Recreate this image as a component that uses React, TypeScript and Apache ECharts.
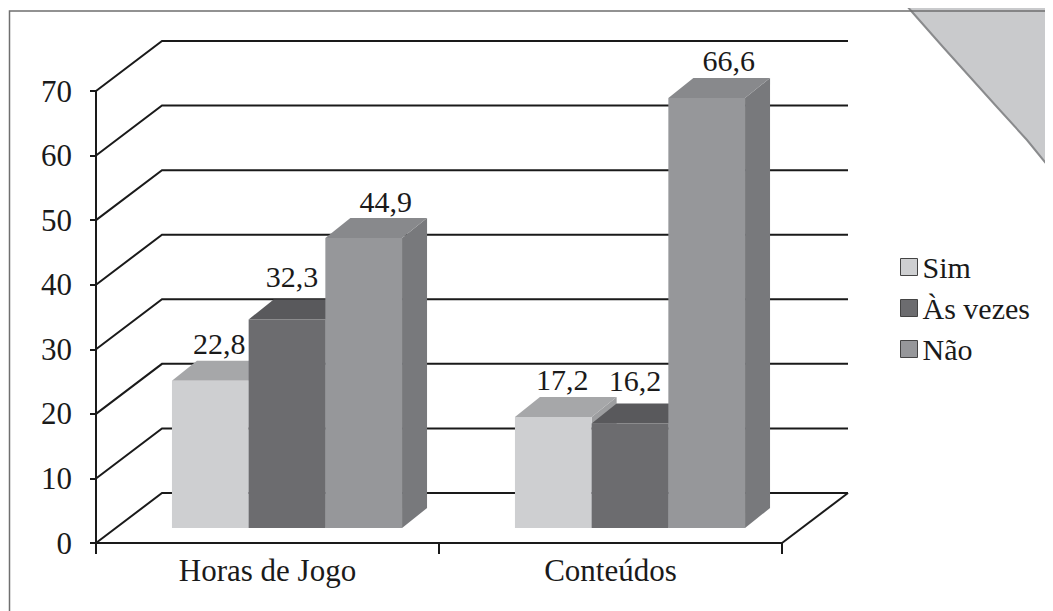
import React, { useEffect, useRef } from "react";
import * as echarts from "echarts";

const categories = ["Horas de Jogo", "Conteúdos"];
const seriesNames = ["Sim", "Às vezes", "Não"];
const simValues = [22.8, 17.2];
const asVezesValues = [32.3, 16.2];
const naoValues = [44.9, 66.6];
const yTicks = [0, 10, 20, 30, 40, 50, 60, 70];

const FONT = "Liberation Serif";

const barStyles = [
  { front: "#cecfd1", top: "#a6a7a9", side: "#9d9ea0", legend: "#cecfd1", lx: 9, ly: -37 },
  { front: "#6c6c6f", top: "#59595c", side: "#555558", legend: "#6c6c6f", lx: 5, ly: -43 },
  { front: "#96979a", top: "#88898c", side: "#78797c", legend: "#96979a", lx: 22, ly: -37 },
];

const WALL_DX = 66;
const WALL_DY = -50;
const FRONT_DX = 19.5;
const FRONT_DY = -15;
const BAR_DX = 25;
const BAR_DY = -20;

const cornerEdge = [
  [900, -2],
  [913, 13],
  [943, 47],
  [970, 77],
  [997, 107],
  [1027, 140],
  [1058, 178],
];

function fmt(v: number) {
  return String(v).replace(".", ",");
}

function makeBarRender(k: number) {
  const st = barStyles[k];
  return (params: any, api: any) => {
    const i = api.value(0);
    const v = api.value(1);
    const base = api.coord([i, 0]);
    const topP = api.coord([i, v]);
    const band = api.size([1, 0])[0];
    const bw = band * 0.2236;
    const xl = base[0] - 1.5 * bw + k * bw + FRONT_DX;
    const xr = xl + bw;
    const yb = base[1] + FRONT_DY;
    const yt = topP[1] + FRONT_DY;
    return {
      type: "group",
      children: [
        {
          type: "polygon",
          shape: {
            points: [
              [xr, yt],
              [xr + BAR_DX, yt + BAR_DY],
              [xr + BAR_DX, yb + BAR_DY],
              [xr, yb],
            ],
          },
          style: { fill: st.side },
        },
        {
          type: "polygon",
          shape: {
            points: [
              [xl, yt],
              [xr, yt],
              [xr + BAR_DX, yt + BAR_DY],
              [xl + BAR_DX, yt + BAR_DY],
            ],
          },
          style: { fill: st.top },
        },
        {
          type: "rect",
          shape: { x: xl, y: yt, width: bw, height: yb - yt },
          style: { fill: st.front },
        },
        {
          type: "text",
          style: {
            text: fmt(v),
            x: xl + bw / 2 + st.lx,
            y: yt + st.ly,
            align: "center",
            verticalAlign: "middle",
            fontSize: 30,
            fontFamily: FONT,
            fontWeight: "normal",
            fill: "#1a1a1a",
          },
        },
      ],
    };
  };
}

function gridRender(params: any, api: any) {
  const v = api.value(1);
  const p = api.coord([0, v]);
  const cs = params.coordSys;
  const x0 = cs.x;
  const y = p[1];
  const children: any[] = [
    {
      type: "polyline",
      shape: {
        points: [
          [x0, y],
          [x0 + WALL_DX, y + WALL_DY],
          [x0 + cs.width + WALL_DX, y + WALL_DY],
        ],
      },
      style: { stroke: "#1a1a1a", lineWidth: 2, fill: "none" },
    },
  ];
  if (v === 0) {
    children.push({
      type: "line",
      shape: { x1: x0 + cs.width, y1: y, x2: x0 + cs.width + WALL_DX, y2: y + WALL_DY },
      style: { stroke: "#1a1a1a", lineWidth: 2 },
    });
  }
  return { type: "group", children };
}

export default function App() {
  const ref = useRef<HTMLDivElement>(null);
  useEffect(() => {
    const chart = echarts.init(ref.current!, null, { renderer: "svg" });
    const valueSets = [simValues, asVezesValues, naoValues];
    const option: any = {
      animation: false,
      grid: { left: 88, top: 83, width: 686, height: 452, containLabel: false },
      xAxis: {
        type: "category",
        data: categories,
        boundaryGap: true,
        axisLine: { lineStyle: { color: "#1a1a1a", width: 2 } },
        axisTick: { show: true, length: 11, alignWithLabel: false, lineStyle: { color: "#1a1a1a", width: 2 } },
        axisLabel: { margin: 12, color: "#1a1a1a", fontSize: 31, fontFamily: FONT, fontWeight: "normal" },
        splitLine: { show: false },
      },
      yAxis: {
        type: "value",
        min: 0,
        max: 70,
        interval: 10,
        axisLine: { show: true, lineStyle: { color: "#1a1a1a", width: 2 } },
        axisTick: { show: true, length: 6, lineStyle: { color: "#1a1a1a", width: 2 } },
        axisLabel: { margin: 24, color: "#1a1a1a", fontSize: 31, fontFamily: FONT, fontWeight: "normal" },
        splitLine: { show: false },
      },
      legend: {
        orient: "vertical",
        left: 887,
        top: 239,
        itemWidth: 17,
        itemHeight: 17,
        itemGap: 11,
        itemTextGap: 10,
        icon: "rect",
        textStyle: { fontSize: 30, fontFamily: FONT, fontWeight: "normal", color: "#1a1a1a", lineHeight: 30 },
        data: seriesNames.map((n, k) => ({
          name: n,
          itemStyle: { color: barStyles[k].legend, borderColor: "#444", borderWidth: 1 },
        })),
      },
      series: [
        {
          type: "custom",
          name: "grid3d",
          z: 1,
          silent: true,
          renderItem: gridRender,
          data: yTicks.map((t) => [0, t]),
        },
        ...seriesNames.map((n, k) => ({
          type: "custom",
          name: n,
          z: 2,
          itemStyle: { color: barStyles[k].legend },
          renderItem: makeBarRender(k),
          data: valueSets[k].map((v, i) => [i, v]),
        })),
      ],
      graphic: [
        {
          type: "group",
          x: -8,
          y: -8,
          z: -10,
          children: [
            {
              type: "polygon",
              shape: { points: [...cornerEdge, [1060, 178], [1060, -5], [900, -5]] },
              style: { fill: "#c9cacc" },
            },
            {
              type: "polyline",
              shape: { points: cornerEdge },
              style: { fill: "none", stroke: "#8a8b8d", lineWidth: 2 },
            },
            {
              type: "rect",
              shape: { x: 9.5, y: 11, width: 1100, height: 700 },
              style: { fill: "none", stroke: "#6f6f6f", lineWidth: 1.5 },
            },
          ],
        },
      ],
    };
    chart.setOption(option);
    return () => chart.dispose();
  }, []);
  return <div ref={ref} style={{ width: 1045, height: 603, fontFamily: "Liberation Serif" }} />;
}
